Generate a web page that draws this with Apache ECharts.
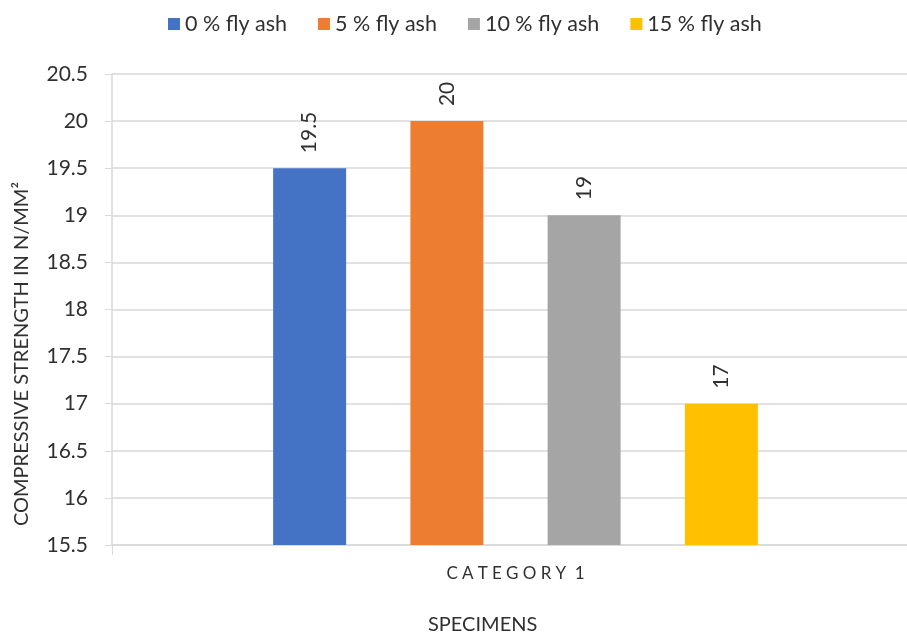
<!DOCTYPE html>
<html>
<head>
<meta charset="utf-8">
<script src="https://cdn.jsdelivr.net/npm/echarts@6/dist/echarts.min.js"></script>
<style>
  html, body { margin: 0; padding: 0; background: #fff; overflow: hidden; }
  /* canvas runs past the right edge so the plot area continues beyond the frame */
  #chart { width: 931px; height: 637px; }
</style>
</head>
<body>
<div id="chart"></div>
<script>
// Compressive strength of specimens by fly ash content
const categories = ['C\u2005A\u2005T\u2005E\u2005G\u2005O\u2005R\u2005Y \u20051'];
const seriesNames = ['0 % fly ash', '5 % fly ash', '10 % fly ash', '15 % fly ash'];
const seriesValues = [[19.5], [20], [19], [17]];
const seriesColors = ['#4472C4', '#ED7D31', '#A5A5A5', '#FFC000'];
const yTicks = { min: 15.5, max: 20.5, interval: 0.5 };

const FONT = 'Lato, "Open Sans", sans-serif';
const TEXT = '#303030';

const chart = echarts.init(document.getElementById('chart'), null, { renderer: 'canvas' });

const series = seriesNames.map((name, i) => ({
  name: name,
  type: 'bar',
  data: seriesValues[i],
  barWidth: 73,
  barGap: '88%',
  itemStyle: { color: seriesColors[i] },
  label: {
    show: true,
    position: 'top',
    distance: 15,
    rotate: 90,
    align: 'left',
    verticalAlign: 'middle',
    color: TEXT,
    fontFamily: FONT,
    fontSize: 21
  }
}));

chart.setOption({
  animation: false,
  backgroundColor: '#ffffff',
  textStyle: { fontFamily: FONT },
  legend: {
    top: 8,
    left: 163,
    icon: 'rect',
    itemWidth: 12,
    itemHeight: 12,
    itemGap: 31,
    textStyle: { color: TEXT, fontSize: 21.5, fontFamily: FONT },
    data: seriesNames
  },
  grid: { left: 112, right: 12, top: 74, bottom: 92, containLabel: false },
  xAxis: {
    type: 'category',
    data: categories,
    axisLine: { lineStyle: { color: '#d9d9d9', width: 1.5 } },
    axisTick: { show: true, length: 10, lineStyle: { color: '#d9d9d9' } },
    axisLabel: { color: TEXT, fontSize: 17, fontFamily: FONT, margin: 20 }
  },
  yAxis: {
    type: 'value',
    min: yTicks.min,
    max: yTicks.max,
    interval: yTicks.interval,
    axisLine: { show: true, lineStyle: { color: '#d9d9d9', width: 1.5 } },
    axisTick: { show: true, length: 7, lineStyle: { color: '#d9d9d9' } },
    axisLabel: { color: TEXT, fontSize: 21, fontFamily: FONT, margin: 24 },
    splitLine: { lineStyle: { color: '#d9d9d9', width: 1.5 } }
  },
  graphic: [
    {
      type: 'text',
      left: 428,
      top: 615,
      style: { text: 'SPECIMENS', fill: TEXT, font: '20px ' + FONT }
    },
    {
      type: 'text',
      x: 22,
      y: 354,
      rotation: Math.PI / 2,
      style: {
        text: 'COMPRESSIVE STRENGTH IN N/MM²',
        fill: TEXT,
        font: '20px ' + FONT,
        align: 'center',
        verticalAlign: 'middle'
      }
    }
  ],
  series: series
});
</script>
</body>
</html>
